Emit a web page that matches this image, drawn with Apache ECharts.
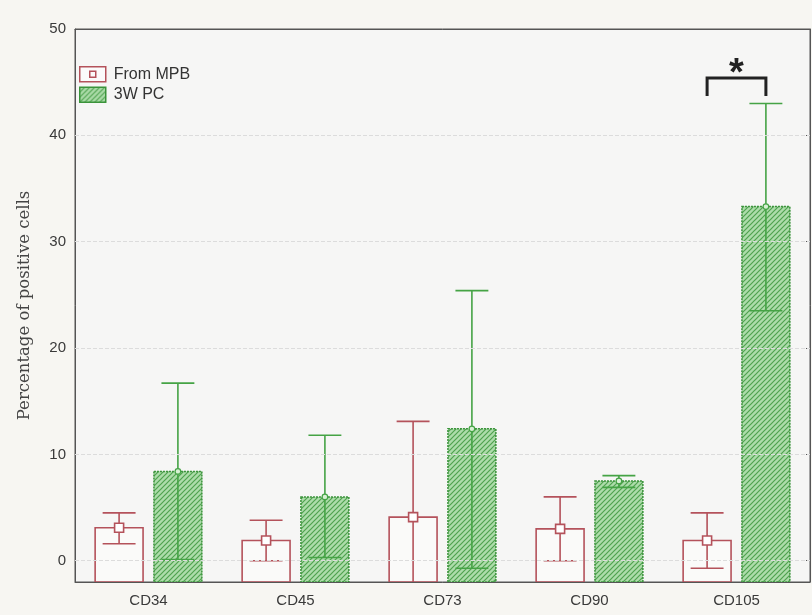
<!DOCTYPE html>
<html>
<head>
<meta charset="utf-8">
<script src="https://cdn.jsdelivr.net/npm/echarts@6/dist/echarts.min.js"></script>
<style>
  html, body { margin: 0; padding: 0; background: #f7f6f2; }
  #chart { width: 812px; height: 615px; }
</style>
</head>
<body>
<div id="chart"></div>
<script>
// markers
const categories = ['CD34', 'CD45', 'CD73', 'CD90', 'CD105'];
const mpbMean = [3.1, 1.9, 4.1, 3.0, 1.9];
const mpbLow = [1.6, 0.0, -4.8, 0.0, -0.7];
const mpbHigh = [4.5, 3.8, 13.1, 6.0, 4.5];
const pcMean = [8.4, 6.0, 12.4, 7.5, 33.3];
const pcLow = [0.1, 0.3, -0.7, 6.9, 23.5];
const pcHigh = [16.7, 11.8, 25.4, 8.0, 43.0];
const yTicks = [0, 10, 20, 30, 40, 50];
const gridValues = [0, 10, 20, 30, 40];
// significance bracket: category, top, tip
const sigMark = [[4, 45.4, 43.7]];

const Y_MIN = -2;
const Y_MAX = 50;
const RED = '#b4525b';
const GREEN = '#45a345';
const GREEN_DARK = '#3a933a';

// hatch pattern for the green bars
const hatch = document.createElement('canvas');
hatch.width = 5;
hatch.height = 5;
(function () {
  const c = hatch.getContext('2d');
  c.fillStyle = '#addcaa';
  c.fillRect(0, 0, 5, 5);
  c.strokeStyle = '#4fa24f';
  c.lineWidth = 1.2;
  c.beginPath();
  c.moveTo(-1, 6); c.lineTo(6, -1);
  c.moveTo(-1, 1); c.lineTo(1, -1);
  c.moveTo(4, 6); c.lineTo(6, 4);
  c.stroke();
})();
const hatchFill = { image: hatch, repeat: 'repeat' };

function groupItem(side, meanArr, lowArr, highArr, isPc) {
  return function (params, api) {
    const i = api.value(0);
    const band = api.size([1, 0])[0];
    const off = side * band * 0.2;
    const half = band * 0.163;
    const capHalf = band * 0.112;
    const top = api.coord([i, meanArr[i]]);
    const base = api.coord([i, Y_MIN]);
    const hi = api.coord([i, highArr[i]]);
    const lo = api.coord([i, lowArr[i]]);
    const cx = top[0] + off;
    const lineCol = isPc ? GREEN : RED;
    const children = [];
    children.push({
      type: 'rect',
      shape: { x: cx - half, y: top[1], width: half * 2, height: base[1] - top[1] },
      style: isPc
        ? { fill: hatchFill, stroke: GREEN_DARK, lineWidth: 1.5, lineDash: [2, 1] }
        : { fill: 'rgba(255,255,255,0.45)', stroke: RED, lineWidth: 1.6 }
    });
    children.push({
      type: 'line',
      shape: { x1: cx, y1: hi[1], x2: cx, y2: lo[1] },
      style: { stroke: lineCol, lineWidth: 1.6 }
    });
    [hi[1], lo[1]].forEach(function (yy) {
      children.push({
        type: 'line',
        shape: { x1: cx - capHalf, y1: yy, x2: cx + capHalf, y2: yy },
        style: { stroke: lineCol, lineWidth: 1.6 }
      });
    });
    if (isPc) {
      children.push({
        type: 'circle',
        shape: { cx: cx, cy: top[1], r: 2.8 },
        style: { fill: '#d8f0d4', stroke: GREEN, lineWidth: 1.2 }
      });
    } else {
      children.push({
        type: 'rect',
        shape: { x: cx - 4.5, y: top[1] - 4.5, width: 9, height: 9 },
        style: { fill: '#fff', stroke: RED, lineWidth: 1.6 }
      });
    }
    return { type: 'group', children: children };
  };
}

const chart = echarts.init(document.getElementById('chart'));

const option = {
  backgroundColor: '#f7f6f2',
  animation: false,
  grid: {
    left: 75, right: 2, top: 29, bottom: 33,
    show: true,
    backgroundColor: '#f6f6f5',
    borderColor: '#555',
    borderWidth: 1
  },
  legend: {
    left: 74, top: 61,
    orient: 'vertical',
    itemWidth: 26,
    itemHeight: 15,
    itemGap: 4,
    selectedMode: false,
    textStyle: { fontFamily: 'Liberation Sans, Arial', fontSize: 16, color: '#333', padding: [0, 0, 0, 3] },
    data: [
      {
        name: 'From MPB',
        icon: 'path://M0,0H26V15H0Z M10,4.5H16V10.5H10Z',
        itemStyle: { color: '#fbfbfb', borderColor: RED, borderWidth: 1.5 }
      },
      {
        name: '3W PC',
        icon: 'path://M0,0H26V15H0Z',
        itemStyle: { color: hatchFill, borderColor: GREEN_DARK, borderWidth: 1.5 }
      }
    ]
  },
  xAxis: [
    {
      type: 'category',
      data: categories,
      axisLine: { onZero: false, lineStyle: { color: '#555' } },
      axisTick: { alignWithLabel: true, inside: true, length: 4, lineStyle: { color: '#555' } },
      axisLabel: { fontFamily: 'Liberation Sans, Arial', fontSize: 15, color: '#3a3a3a', margin: 11 }
    },
    {
      type: 'category',
      data: categories,
      position: 'top',
      axisLine: { onZero: false, lineStyle: { color: '#555' } },
      axisTick: { alignWithLabel: true, inside: true, length: 4, lineStyle: { color: '#555' } },
      axisLabel: { show: false }
    }
  ],
  yAxis: [
    {
      type: 'value',
      min: Y_MIN,
      max: Y_MAX,
      name: 'Percentage of positive cells',
      nameLocation: 'middle',
      nameGap: 42,
      nameTextStyle: { fontFamily: 'DejaVu Serif', fontSize: 16.5, color: '#444' },
      axisLine: { show: true, onZero: false, lineStyle: { color: '#555' } },
      axisTick: { show: true, inside: true, length: 4, customValues: yTicks, lineStyle: { color: '#555' } },
      axisLabel: { customValues: yTicks, fontFamily: 'Liberation Sans, Arial', fontSize: 15, color: '#3a3a3a', margin: 9 },
      splitLine: { show: false }
    },
    {
      type: 'value',
      min: Y_MIN,
      max: Y_MAX,
      position: 'right',
      axisLine: { show: true, onZero: false, lineStyle: { color: '#555' } },
      axisTick: { show: true, inside: true, length: 4, customValues: yTicks, lineStyle: { color: '#555' } },
      axisLabel: { show: false },
      splitLine: { show: false }
    }
  ],
  series: [
    {
      name: 'grid',
      type: 'line',
      data: [],
      silent: true,
      markLine: {
        silent: true,
        symbol: 'none',
        label: { show: false },
        lineStyle: { color: '#dcdcdc', type: 'dashed', width: 1 },
        data: gridValues.map(function (v) { return { yAxis: v }; })
      }
    },
    {
      name: 'From MPB',
      type: 'custom',
      clip: true,
      itemStyle: { color: RED },
      renderItem: groupItem(-1, mpbMean, mpbLow, mpbHigh, false),
      data: categories.map(function (c, i) { return [i, mpbMean[i]]; })
    },
    {
      name: '3W PC',
      type: 'custom',
      clip: true,
      itemStyle: { color: GREEN },
      renderItem: groupItem(1, pcMean, pcLow, pcHigh, true),
      data: categories.map(function (c, i) { return [i, pcMean[i]]; })
    },
    {
      name: 'sig',
      type: 'custom',
      silent: true,
      renderItem: function (params, api) {
        const i = api.value(0);
        const band = api.size([1, 0])[0];
        const topPt = api.coord([i, api.value(1)]);
        const tipPt = api.coord([i, api.value(2)]);
        const x1 = topPt[0] - band * 0.2;
        const x2 = topPt[0] + band * 0.2;
        return {
          type: 'group',
          children: [
            {
              type: 'polyline',
              shape: { points: [[x1, tipPt[1]], [x1, topPt[1]], [x2, topPt[1]], [x2, tipPt[1]]] },
              style: { stroke: '#222', lineWidth: 3, fill: null }
            },
            {
              type: 'text',
              style: {
                text: '*',
                x: (x1 + x2) / 2,
                y: topPt[1] + 16,
                align: 'center',
                verticalAlign: 'bottom',
                fontSize: 38,
                fontWeight: 'bold',
                fontFamily: 'Liberation Sans, Arial',
                fill: '#222'
              }
            }
          ]
        };
      },
      data: sigMark
    }
  ]
};

chart.setOption(option);
</script>
</body>
</html>
